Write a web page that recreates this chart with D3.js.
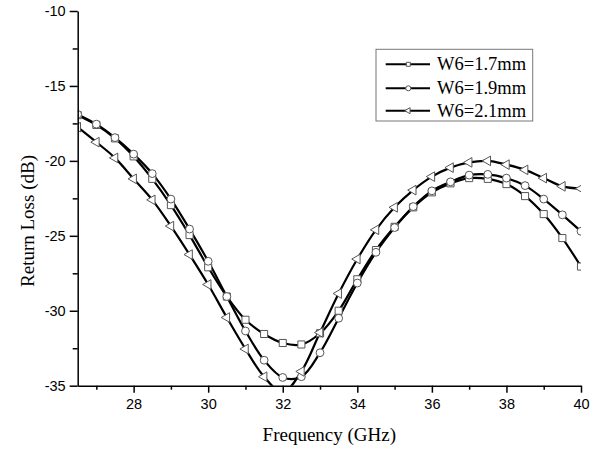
<!DOCTYPE html>
<html>
<head>
<meta charset="utf-8">
<script src="https://cdn.jsdelivr.net/npm/d3@7"></script>
<style>
  html, body { margin: 0; padding: 0; background: #fff; overflow: hidden; }
  svg { display: block; }
  .tick text { font-family: "Liberation Sans", Arial, sans-serif; font-size: 14.5px; fill: #000; }
  .axis-label { font-family: "Liberation Serif", "Times New Roman", serif; font-size: 19px; fill: #000; }
  .legend-text { font-family: "Liberation Serif", "Times New Roman", serif; font-size: 18.5px; fill: #000; }
</style>
</head>
<body>
<svg width="603" height="450"></svg>
<script>
// frequency points (GHz), one marker each
const freq = [26.5, 27, 27.5, 28, 28.5, 29, 29.5, 30, 30.5, 31, 31.5, 32, 32.5, 33,
              33.5, 34, 34.5, 35, 35.5, 36, 36.5, 37, 37.5, 38, 38.5, 39, 39.5, 40];

// return loss (dB) for each W6
const w17 = [-16.95, -17.6, -18.5, -19.7, -21.2, -22.95, -24.95, -27.1, -29.05, -30.6,
             -31.55, -32.15, -32.25, -31.5, -30.0, -27.9, -25.95, -24.4, -23.1, -22.1,
             -21.5, -21.15, -21.2, -21.55, -22.35, -23.55, -25.15, -27.05];
const w19 = [-16.9, -17.55, -18.45, -19.55, -20.85, -22.55, -24.55, -26.7, -29.05, -31.35,
             -33.3, -34.45, -34.4, -32.8, -30.5, -28.15, -26.1, -24.45, -23.05, -22.0,
             -21.4, -20.95, -20.9, -21.15, -21.65, -22.55, -23.6, -24.7];
const w21 = [-17.75, -18.75, -19.8, -21.2, -22.6, -24.35, -26.25, -28.25, -30.45, -32.55,
             -34.4, -35.45, -34.05, -31.45, -28.85, -26.55, -24.6, -23.1, -21.95, -21.05,
             -20.45, -20.1, -20.0, -20.25, -20.6, -21.15, -21.7, -21.85];

const seriesNames = ['W6=1.7mm', 'W6=1.9mm', 'W6=2.1mm'];
const xTicks = [28, 30, 32, 34, 36, 38, 40];
const xMinor = [27, 29, 31, 33, 35, 37, 39];
const yTicks = [-35, -30, -25, -20, -15, -10];
const yMinor = [-32.5, -27.5, -22.5, -17.5, -12.5];

const svg = d3.select('svg');
const width = +svg.attr('width');
const height = +svg.attr('height');

const margin = { left: 77.7, top: 11, right: 22, bottom: 64.3 };
const innerWidth = width - margin.left - margin.right;
const innerHeight = height - margin.top - margin.bottom;

const xScale = d3.scaleLinear().domain([26.5, 40]).range([0, innerWidth]);
const yScale = d3.scaleLinear().domain([-35, -10]).range([innerHeight, 0]);

const g = svg.append('g')
  .attr('transform', `translate(${margin.left}, ${margin.top})`);

g.append('clipPath').attr('id', 'clip')
  .append('rect')
    .attr('width', innerWidth)
    .attr('height', innerHeight);

// markers
const square = d3.symbol(d3.symbolSquare, 50);
const circle = d3.symbol(d3.symbolCircle, 48);
const triangle = d3.symbol(d3.symbolTriangle, 40);

const series = [
  { name: seriesNames[0], values: w17, path: square, rot: 0 },
  { name: seriesNames[1], values: w19, path: circle, rot: 0 },
  { name: seriesNames[2], values: w21, path: triangle, rot: -90 }
];

const line = d3.line()
  .x(d => xScale(d[0]))
  .y(d => yScale(d[1]))
  .curve(d3.curveCatmullRom.alpha(0.5));

const plot = g.append('g').attr('clip-path', 'url(#clip)');

series.forEach(s => {
  const pts = freq.map((f, i) => [f, s.values[i]]);
  plot.append('path')
    .datum(pts)
    .attr('fill', 'none')
    .attr('stroke', '#000')
    .attr('stroke-width', 2.2)
    .attr('d', line);
});

series.forEach(s => {
  const pts = freq.map((f, i) => [f, s.values[i]]);
  plot.selectAll(null).data(pts)
    .enter().append('path')
      .attr('d', s.path())
      .attr('transform', d => `translate(${xScale(d[0])}, ${yScale(d[1])}) rotate(${s.rot})`)
      .attr('fill', '#fff')
      .attr('stroke', '#555')
      .attr('stroke-width', 1);
});

// axes (plain hyphen for negatives, like the original)
const fmt = d => String(d);

const xAxisG = g.append('g')
  .attr('transform', `translate(0, ${innerHeight})`)
  .call(d3.axisBottom(xScale).tickValues(xTicks).tickFormat(fmt)
    .tickSize(7).tickPadding(6).tickSizeOuter(0));
const xMinorG = xAxisG.append('g')
  .call(d3.axisBottom(xScale).tickValues(xMinor).tickSize(4).tickSizeOuter(0));
xMinorG.select('.domain').remove();
xMinorG.selectAll('text').remove(); // minor ticks carry no label

const yAxisG = g.append('g')
  .call(d3.axisLeft(yScale).tickValues(yTicks).tickFormat(fmt)
    .tickSize(8).tickPadding(4).tickSizeOuter(0));
const yMinorG = yAxisG.append('g')
  .call(d3.axisLeft(yScale).tickValues(yMinor).tickSize(5).tickSizeOuter(0));
yMinorG.select('.domain').remove();
yMinorG.selectAll('text').remove();

g.selectAll('.domain, .tick line')
  .attr('stroke', '#000')
  .attr('stroke-width', 1.5);

// axis titles
svg.append('text')
  .attr('class', 'axis-label')
  .attr('x', margin.left + innerWidth / 2)
  .attr('y', 441)
  .attr('text-anchor', 'middle')
  .text('Frequency (GHz)');

svg.append('text')
  .attr('class', 'axis-label')
  .attr('transform', 'translate(34, 221) rotate(-90)')
  .attr('text-anchor', 'middle')
  .text('Return Loss (dB)');

// legend
const legend = svg.append('g').attr('transform', 'translate(376, 49.3)');
legend.append('rect')
  .attr('width', 156.7)
  .attr('height', 71.7)
  .attr('fill', '#fff')
  .attr('stroke', '#777')
  .attr('stroke-width', 1);

const legendSize = [16, 20, 16];
const rowY = [15, 39, 61.4];

series.forEach((s, i) => {
  const row = legend.append('g').attr('transform', `translate(0, ${rowY[i]})`);
  row.append('line')
    .attr('x1', 9.7).attr('x2', 54)
    .attr('stroke', '#000').attr('stroke-width', 2);
  row.append('path')
    .attr('d', s.path.size(legendSize[i])())
    .attr('transform', `translate(32.3, 0) rotate(${s.rot})`)
    .attr('fill', '#fff')
    .attr('stroke', '#555')
    .attr('stroke-width', 1);
  row.append('text')
    .attr('class', 'legend-text')
    .attr('x', 61)
    .attr('y', 6)
    .text(s.name);
});
</script>
</body>
</html>
